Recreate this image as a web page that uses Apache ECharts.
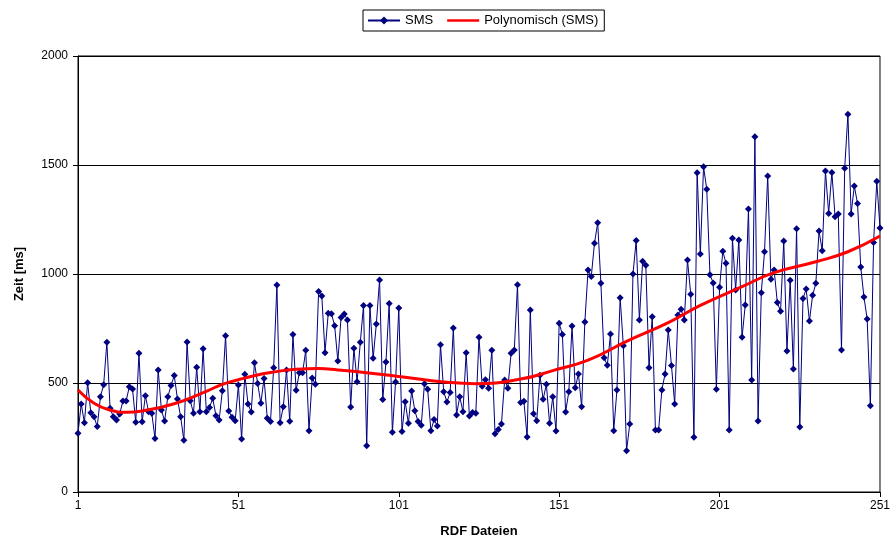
<!DOCTYPE html>
<html><head><meta charset="utf-8">
<script src="https://cdn.jsdelivr.net/npm/echarts@6/dist/echarts.min.js"></script>
<style>html,body{margin:0;padding:0;background:#fff}#c{width:893px;height:545px}</style>
</head><body><div id="c"></div>
<script>
const smsValues = [
270,404,318,501,364,345,300,437,492,687,384,345,330,358,417,417,483,472,320,636,
322,442,368,361,245,560,376,326,437,488,534,427,345,237,688,419,361,572,368,657,
368,388,430,350,330,465,717,372,343,327,491,243,540,404,367,593,498,407,521,338,
323,570,950,318,391,560,324,722,467,547,547,650,281,523,494,920,899,639,820,818,
763,601,800,817,789,390,659,506,687,855,212,855,613,771,972,424,596,865,274,505,
844,277,414,315,463,373,323,306,497,471,281,332,303,676,460,413,456,752,353,437,
368,639,349,365,361,710,485,515,476,650,267,287,312,514,476,636,651,951,410,416,
252,835,359,327,535,425,494,315,437,280,774,722,367,460,761,478,541,391,780,1018,
988,1141,1235,957,616,581,725,281,468,891,671,189,312,1000,1154,789,1058,1040,570,804,
284,284,468,541,743,580,404,812,838,789,1064,907,251,1465,1092,1492,1389,997,959,471,
939,1104,1049,284,1164,927,1156,710,858,1298,514,1630,326,914,1102,1450,976,1018,869,829,
1151,647,971,564,1208,298,888,931,784,902,957,1197,1107,1472,1278,1466,1263,1275,651,1485,
1733,1275,1404,1323,1032,894,794,396,1145,1425,1211
];
const trendIdx = [1,6,11,16,21,31,41,46,51,57,61,69,76,82,93,103,115,125,139,149,160,172,185,195,208,218,231,241,251];
const trendVal = [468,407,376,366,372,405,462,494,515,537,548,563,566,560,544,526,505,497,518,557,605,691,777,856,942,1006,1056,1102,1174];
const yTicks = [0,500,1000,1500,2000];

const categories = smsValues.map((v,i)=>String(i+1));
const trendData = trendIdx.map((x,i)=>[x-1, trendVal[i]]);
const font = '"Liberation Sans", Arial, sans-serif';

const chart = echarts.init(document.getElementById('c'), null, {renderer:'canvas'});
chart.setOption({
  animation:false,
  backgroundColor:'#fff',
  textStyle:{fontFamily:font},
  legend:{
    left:363, top:10, orient:'horizontal',
    borderColor:'#000', borderWidth:1, padding:[4,6,4,4],
    itemGap:14, itemWidth:32, itemHeight:10,
    textStyle:{fontFamily:font, fontSize:13, color:'#000'},
    data:[{name:'SMS'},{name:'Polynomisch (SMS)', icon:'path://M0,0L40,0L40,3L0,3Z'}]
  },
  grid:{left:78, right:12, top:56, bottom:53, show:true, borderColor:'#000', borderWidth:1, containLabel:false},
  xAxis:{
    type:'category', data:categories, boundaryGap:false,
    name:'RDF Dateien', nameLocation:'middle', nameGap:33,
    nameTextStyle:{fontFamily:font, fontSize:13, fontWeight:'bold', color:'#000'},
    axisLine:{lineStyle:{color:'#000', width:1}},
    axisTick:{show:true, interval:49, length:5, lineStyle:{color:'#000'}},
    axisLabel:{interval:49, color:'#000', fontSize:12, fontFamily:font, margin:8},
    splitLine:{show:false}
  },
  yAxis:{
    type:'value', min:yTicks[0], max:yTicks[yTicks.length-1], interval:500,
    name:'Zeit [ms]', nameLocation:'middle', nameGap:52, nameRotate:90,
    nameTextStyle:{fontFamily:font, fontSize:13, fontWeight:'bold', color:'#000'},
    axisLine:{show:true, lineStyle:{color:'#000', width:1}},
    axisTick:{show:true, length:5, lineStyle:{color:'#000'}},
    axisLabel:{color:'#000', fontSize:12, fontFamily:font, margin:10, formatter:v=>String(v)},
    splitLine:{show:true, lineStyle:{color:'#000', width:1}}
  },
  series:[
    {name:'SMS', type:'line', data:smsValues, symbol:'diamond', symbolSize:7,
     showSymbol:true, showAllSymbol:true,
     itemStyle:{color:'#000080'}, lineStyle:{color:'#000080', width:1}, z:2},
    {name:'Polynomisch (SMS)', type:'line', data:trendData, smooth:0.5, symbol:'none',
     itemStyle:{color:'#ff0000'}, lineStyle:{color:'#ff0000', width:3}, z:3}
  ]
});
</script></body></html>
